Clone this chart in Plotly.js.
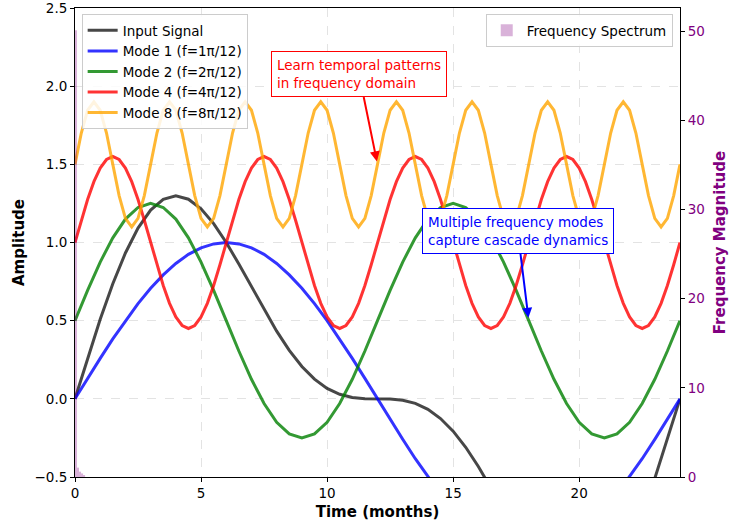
<!DOCTYPE html>
<html>
<head>
<meta charset="utf-8">
<script src="https://cdn.plot.ly/plotly-3.0.1.min.js"></script>
<style>html,body{margin:0;padding:0;background:#fff;}#chart{width:739px;height:525px;}</style>
</head>
<body>
<div id="chart"></div>
<script>
// Time axis (months), coarse and fine sampling
const time = [0,0.5,1,1.5,2,2.5,3,3.5,4,4.5,5,5.5,6,6.5,7,7.5,8,8.5,9,9.5,10,10.5,11,11.5,12,12.5,13,13.5,14,14.5,15,15.5,16,16.5,17,17.5,18,18.5,19,19.5,20,20.5,21,21.5,22,22.5,23,23.5,24];
const timeFine = [0,0.25,0.5,0.75,1,1.25,1.5,1.75,2,2.25,2.5,2.75,3,3.25,3.5,3.75,4,4.25,4.5,4.75,5,5.25,5.5,5.75,6,6.25,6.5,6.75,7,7.25,7.5,7.75,8,8.25,8.5,8.75,9,9.25,9.5,9.75,10,10.25,10.5,10.75,11,11.25,11.5,11.75,12,12.25,12.5,12.75,13,13.25,13.5,13.75,14,14.25,14.5,14.75,15,15.25,15.5,15.75,16,16.25,16.5,16.75,17,17.25,17.5,17.75,18,18.25,18.5,18.75,19,19.25,19.5,19.75,20,20.25,20.5,20.75,21,21.25,21.5,21.75,22,22.25,22.5,22.75,23,23.25,23.5,23.75,24];

const inputSignal = [0,0.26,0.509,0.736,0.933,1.092,1.207,1.276,1.299,1.277,1.216,1.121,1.0,0.862,0.716,0.57,0.433,0.31,0.207,0.126,0.067,0.029,0.009,0.001,0,-0.001,-0.009,-0.029,-0.067,-0.126,-0.207,-0.31,-0.433,-0.57,-0.716,-0.862,-1.0,-1.121,-1.216,-1.277,-1.299,-1.276,-1.207,-1.092,-0.933,-0.736,-0.509,-0.26,0];
const mode1 = [0,0.131,0.259,0.383,0.5,0.609,0.707,0.793,0.866,0.924,0.966,0.991,1.0,0.991,0.966,0.924,0.866,0.793,0.707,0.609,0.5,0.383,0.259,0.131,0,-0.131,-0.259,-0.383,-0.5,-0.609,-0.707,-0.793,-0.866,-0.924,-0.966,-0.991,-1.0,-0.991,-0.966,-0.924,-0.866,-0.793,-0.707,-0.609,-0.5,-0.383,-0.259,-0.131,0];
const mode2 = [0.5,0.694,0.875,1.03,1.15,1.224,1.25,1.224,1.15,1.03,0.875,0.694,0.5,0.306,0.125,-0.03,-0.15,-0.224,-0.25,-0.224,-0.15,-0.03,0.125,0.306,0.5,0.694,0.875,1.03,1.15,1.224,1.25,1.224,1.15,1.03,0.875,0.694,0.5,0.306,0.125,-0.03,-0.15,-0.224,-0.25,-0.224,-0.15,-0.03,0.125,0.306,0.5];
const mode4 = [1.0,1.142,1.275,1.389,1.476,1.531,1.55,1.531,1.476,1.389,1.275,1.142,1.0,0.858,0.725,0.611,0.524,0.469,0.45,0.469,0.524,0.611,0.725,0.858,
               1.0,1.142,1.275,1.389,1.476,1.531,1.55,1.531,1.476,1.389,1.275,1.142,1.0,0.858,0.725,0.611,0.524,0.469,0.45,0.469,0.524,0.611,0.725,0.858,
               1.0,1.142,1.275,1.389,1.476,1.531,1.55,1.531,1.476,1.389,1.275,1.142,1.0,0.858,0.725,0.611,0.524,0.469,0.45,0.469,0.524,0.611,0.725,0.858,
               1.0,1.142,1.275,1.389,1.476,1.531,1.55,1.531,1.476,1.389,1.275,1.142,1.0,0.858,0.725,0.611,0.524,0.469,0.45,0.469,0.524,0.611,0.725,0.858,
               1.0];
const mode8 = [1.5,1.7,1.846,1.9,1.846,1.7,1.5,1.3,1.154,1.1,1.154,1.3,
               1.5,1.7,1.846,1.9,1.846,1.7,1.5,1.3,1.154,1.1,1.154,1.3,
               1.5,1.7,1.846,1.9,1.846,1.7,1.5,1.3,1.154,1.1,1.154,1.3,
               1.5,1.7,1.846,1.9,1.846,1.7,1.5,1.3,1.154,1.1,1.154,1.3,
               1.5,1.7,1.846,1.9,1.846,1.7,1.5,1.3,1.154,1.1,1.154,1.3,
               1.5,1.7,1.846,1.9,1.846,1.7,1.5,1.3,1.154,1.1,1.154,1.3,
               1.5,1.7,1.846,1.9,1.846,1.7,1.5,1.3,1.154,1.1,1.154,1.3,
               1.5,1.7,1.846,1.9,1.846,1.7,1.5,1.3,1.154,1.1,1.154,1.3,
               1.5];

// Frequency spectrum (plotted on the time axis near zero)
const specFreq = [0.04, 0.12, 0.2, 0.28, 0.36];
const specMag = [50.1, 1.05, 0.6, 0.4, 0.22];

const yTicks = [-0.5,0,0.5,1,1.5,2,2.5];
const y2Ticks = [0,10,20,30,40,50];
const xTicks = [0,5,10,15,20];

const FONT = 'DejaVu Sans, Liberation Sans, sans-serif';

const traces = [
  {x: time, y: inputSignal, name: 'Input Signal', type: 'scatter', mode: 'lines',
   line: {color: 'rgba(0,0,0,0.72)', width: 3}},
  {x: time, y: mode1, name: 'Mode 1 (f=1π/12)', type: 'scatter', mode: 'lines',
   line: {color: 'rgba(0,0,255,0.8)', width: 3}},
  {x: time, y: mode2, name: 'Mode 2 (f=2π/12)', type: 'scatter', mode: 'lines',
   line: {color: 'rgba(0,128,0,0.8)', width: 3}},
  {x: timeFine, y: mode4, name: 'Mode 4 (f=4π/12)', type: 'scatter', mode: 'lines',
   line: {color: 'rgba(255,0,0,0.8)', width: 3}},
  {x: timeFine, y: mode8, name: 'Mode 8 (f=8π/12)', type: 'scatter', mode: 'lines',
   line: {color: 'rgba(255,165,0,0.8)', width: 3}},
  {x: specFreq, y: specMag, name: 'Frequency Spectrum', type: 'bar', yaxis: 'y2',
   width: 0.08, marker: {color: 'rgba(128,0,128,0.3)', line: {width: 0}},
   legend: 'legend2'}
];

const layout = {
  width: 739, height: 525,
  margin: {l: 75, r: 59, t: 8, b: 48},
  paper_bgcolor: '#fff', plot_bgcolor: '#fff',
  font: {family: FONT, size: 13.5, color: '#000'},
  showlegend: true,
  xaxis: {
    range: [0, 24], tickvals: xTicks, ticks: 'outside', ticklen: 4, tickwidth: 1, tickcolor: '#000',
    showline: true, linecolor: '#000', linewidth: 1, mirror: true,
    showgrid: true, gridcolor: '#e3e3e3', griddash: 'dash', gridwidth: 1, zeroline: false,
    tickfont: {size: 13.5}, ticklabeloverflow: 'allow',
    title: {text: '<b>Time (months)</b>', font: {size: 15}, standoff: 6}
  },
  yaxis: {
    range: [-0.5, 2.5], tickvals: yTicks, tickformat: '.1f', ticks: 'outside', ticklen: 4, tickwidth: 1, tickcolor: '#000',
    showline: true, linecolor: '#000', linewidth: 1,
    showgrid: true, gridcolor: '#e3e3e3', griddash: 'dash', gridwidth: 1, zeroline: false,
    tickfont: {size: 13.5}, ticklabeloverflow: 'allow',
    title: {text: '<b>Amplitude</b>', font: {size: 15}, standoff: 6}
  },
  yaxis2: {
    overlaying: 'y', side: 'right', range: [0, 52.6], tickvals: y2Ticks,
    ticks: 'outside', ticklen: 4, tickwidth: 1, tickcolor: '#000',
    showline: true, linecolor: '#000', linewidth: 1,
    showgrid: false, zeroline: false,
    tickfont: {size: 13.5, color: '#800080'}, ticklabeloverflow: 'allow',
    title: {text: '<b>Frequency Magnitude</b>', font: {size: 15, color: '#800080'}, standoff: 10}
  },
  legend: {
    x: 0.011, y: 0.987, xanchor: 'left', yanchor: 'top',
    bgcolor: 'rgba(255,255,255,0.85)', bordercolor: '#cccccc', borderwidth: 1,
    font: {size: 13.5}, tracegroupgap: 0
  },
  legend2: {
    x: 0.988, y: 0.987, xanchor: 'right', yanchor: 'top',
    bgcolor: 'rgba(255,255,255,0.85)', bordercolor: '#cccccc', borderwidth: 1,
    font: {size: 13.5}
  },
  annotations: [
    {x: 12, y: 1.5, xref: 'x', yref: 'y', ax: 11.27, ay: 2.075, axref: 'x', ayref: 'y',
     text: 'Learn temporal patterns<br>in frequency domain', align: 'left',
     showarrow: true, arrowhead: 2, arrowsize: 1, arrowwidth: 2, arrowcolor: 'red', standoff: 3,
     font: {color: 'red', size: 13.5}, bgcolor: 'white', bordercolor: 'red', borderwidth: 1, borderpad: 5},
    {x: 18, y: 0.5, xref: 'x', yref: 'y', ax: 17.56, ay: 1.073, axref: 'x', ayref: 'y',
     text: 'Multiple frequency modes<br>capture cascade dynamics', align: 'left',
     showarrow: true, arrowhead: 2, arrowsize: 1, arrowwidth: 2, arrowcolor: 'blue', standoff: 3,
     font: {color: 'blue', size: 13.5}, bgcolor: 'white', bordercolor: 'blue', borderwidth: 1, borderpad: 5}
  ]
};

Plotly.newPlot('chart', traces, layout, {staticPlot: true, displayModeBar: false});
</script>
</body>
</html>
